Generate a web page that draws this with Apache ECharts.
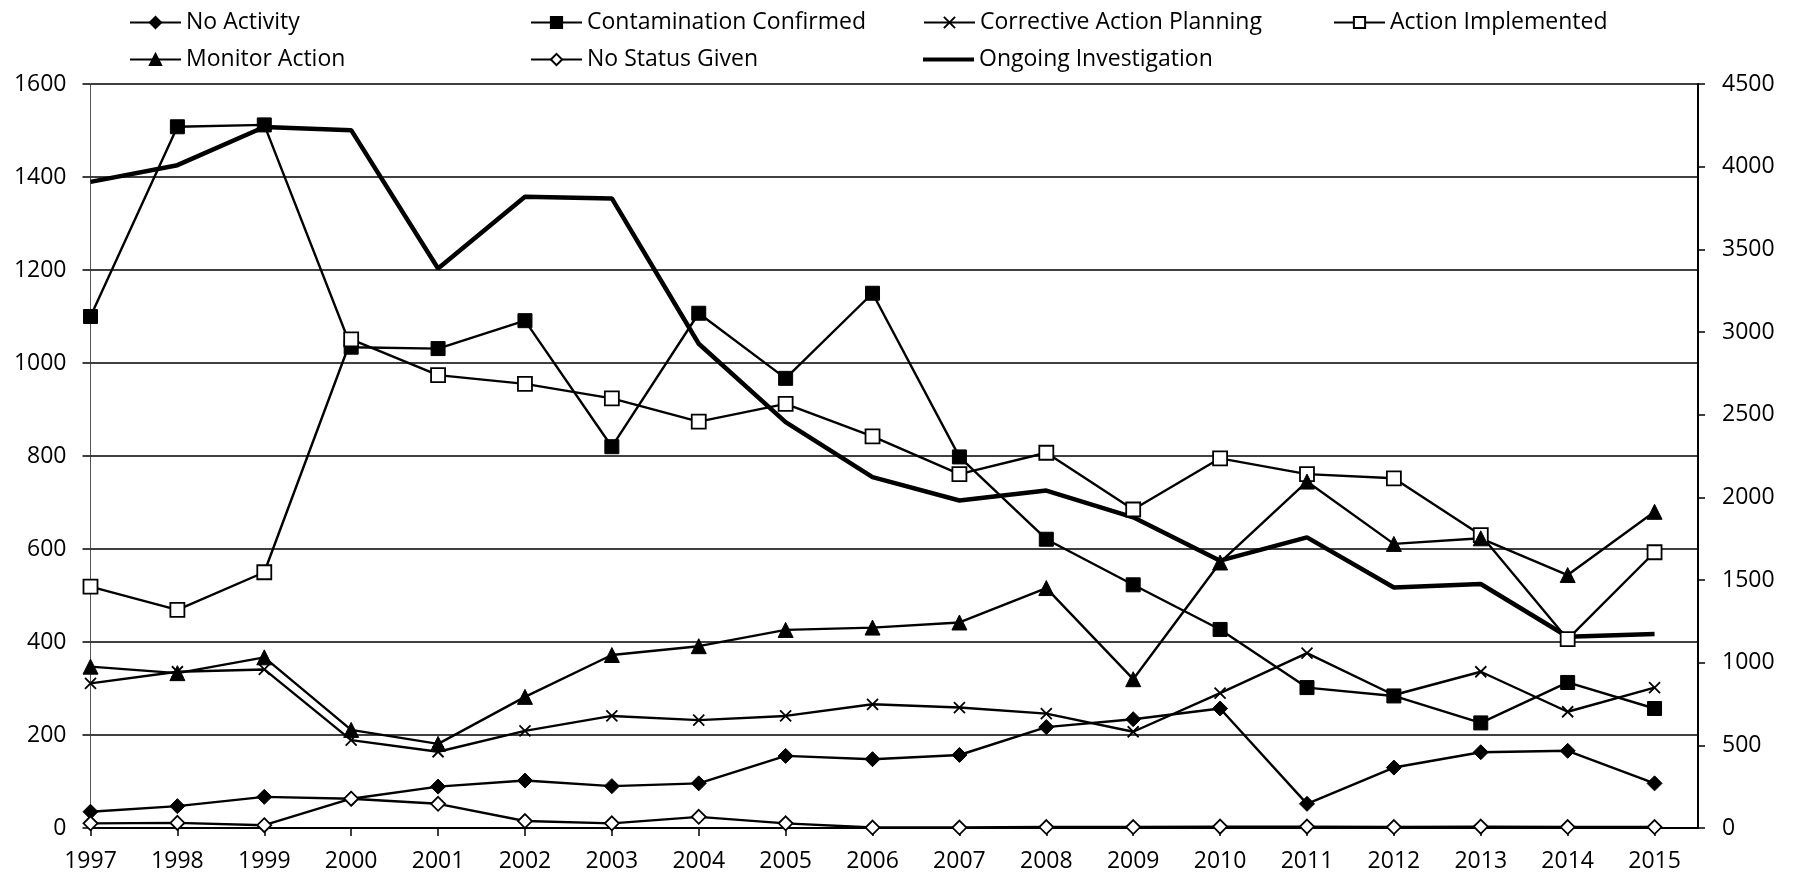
<!DOCTYPE html>
<html>
<head>
<meta charset="utf-8">
<script src="https://cdn.jsdelivr.net/npm/echarts@6/dist/echarts.min.js"></script>
<style>
  html, body { margin: 0; padding: 0; background: #fff; }
  #chart { width: 1801px; height: 877px; }
</style>
</head>
<body>
<div id="chart"></div>
<script>
// ---- Data ----
const years = [1997, 1998, 1999, 2000, 2001, 2002, 2003, 2004, 2005, 2006, 2007, 2008, 2009, 2010, 2011, 2012, 2013, 2014, 2015];
const noActivity = [35, 47, 67, 63, 89, 102, 90, 96, 155, 148, 157, 217, 234, 257, 52, 130, 163, 166, 96];
const contaminationConfirmed = [1100, 1508, 1512, 1034, 1031, 1091, 820, 1107, 967, 1150, 798, 621, 523, 427, 302, 284, 226, 313, 257];
const correctiveActionPlanning = [311, 336, 341, 189, 164, 209, 241, 232, 241, 266, 259, 246, 207, 290, 376, 286, 336, 250, 302];
const actionImplemented = [519, 469, 550, 1051, 974, 955, 924, 874, 912, 842, 761, 807, 685, 795, 761, 752, 630, 406, 593];
const monitorAction = [347, 333, 367, 211, 181, 282, 372, 391, 426, 431, 442, 516, 320, 571, 745, 611, 623, 544, 680];
const noStatusGiven = [10, 11, 6, 63, 52, 15, 10, 24, 10, 1, 1, 2, 2, 3, 3, 2, 3, 2, 2];
const ongoingInvestigation = [3908, 4009, 4240, 4221, 3384, 3818, 3808, 2929, 2455, 2122, 1981, 2041, 1879, 1617, 1758, 1455, 1476, 1157, 1173];

const leftTicks = { min: 0, max: 1600, interval: 200 };
const rightTicks = { min: 0, max: 4500, interval: 500 };

const FONT = 'Open Sans';
const pairs = arr => years.map((y, i) => [y, arr[i]]);

function lineSeries(name, arr, symbol, size, filled, extra) {
  return Object.assign({
    name: name,
    type: 'line',
    data: pairs(arr),
    symbol: symbol,
    symbolSize: size,
    showAllSymbol: true,
    lineStyle: { color: '#000', width: 2.4 },
    itemStyle: filled
      ? { color: '#000', borderColor: '#000', borderWidth: 1 }
      : { color: '#fff', borderColor: '#000', borderWidth: 1.8 },
    emphasis: { disabled: true }
  }, extra || {});
}

const crossPath = 'path://M0,0L10,10M10,0L0,10';

const series = [
  lineSeries('No Activity', noActivity, 'diamond', 15, true),
  lineSeries('Contamination Confirmed', contaminationConfirmed, 'rect', 14, true),
  lineSeries('Corrective Action Planning', correctiveActionPlanning, crossPath, 11, false,
    { itemStyle: { color: '#000', borderColor: '#000', borderWidth: 1.8 } }),
  lineSeries('Action Implemented', actionImplemented, 'rect', 14, false),
  lineSeries('Monitor Action', monitorAction, 'triangle', 15, true),
  lineSeries('No Status Given', noStatusGiven, 'diamond', 14, false),
  {
    name: 'Ongoing Investigation',
    type: 'line',
    yAxisIndex: 1,
    data: pairs(ongoingInvestigation),
    symbol: 'none',
    lineStyle: { color: '#000', width: 4.5 },
    itemStyle: { color: '#000' },
    emphasis: { disabled: true }
  }
];

function legendAt(name, left, top, icon, itemHeight) {
  return {
    data: [icon ? { name: name, icon: icon } : name],
    left: left,
    top: top,
    padding: 0,
    itemWidth: 51,
    itemHeight: itemHeight || 14,
    selectedMode: false,
    textStyle: { fontFamily: FONT, fontSize: 23, color: '#000' }
  };
}

const option = {
  animation: false,
  backgroundColor: '#fff',
  textStyle: { fontFamily: FONT },
  legend: [
    legendAt('No Activity', 129, 11),
    legendAt('Monitor Action', 129, 48),
    legendAt('Contamination Confirmed', 530, 11),
    legendAt('No Status Given', 530, 48),
    legendAt('Corrective Action Planning', 923, 11),
    legendAt('Ongoing Investigation', 923, 48, 'rect', 4),
    legendAt('Action Implemented', 1333, 11)
  ],
  grid: { left: 90.5, right: 103, top: 84, bottom: 49, containLabel: false },
  xAxis: {
    type: 'value',
    min: 1997,
    max: 2015.5,
    interval: 1,
    axisLine: { show: true, onZero: false, lineStyle: { color: '#000', width: 2 } },
    axisTick: { show: true, length: 8, lineStyle: { color: '#000', width: 1.5 } },
    splitLine: { show: false },
    axisLabel: {
      showMaxLabel: false,
      margin: 22,
      fontFamily: FONT, fontSize: 23, color: '#000',
      formatter: v => (Number.isInteger(v) ? String(v) : '')
    }
  },
  yAxis: [
    {
      type: 'value',
      min: leftTicks.min, max: leftTicks.max, interval: leftTicks.interval,
      position: 'left',
      axisLine: { show: true, lineStyle: { color: '#555', width: 1 } },
      axisTick: { show: true, length: 8, lineStyle: { color: '#000', width: 1.5 } },
      splitLine: { show: true, lineStyle: { color: '#000', width: 1.5 } },
      axisLabel: { margin: 24, fontFamily: FONT, fontSize: 23, color: '#000', formatter: v => String(v) }
    },
    {
      type: 'value',
      min: rightTicks.min, max: rightTicks.max, interval: rightTicks.interval,
      position: 'right',
      axisLine: { show: true, lineStyle: { color: '#000', width: 2 } },
      axisTick: { show: true, length: 7, lineStyle: { color: '#000', width: 1.5 } },
      splitLine: { show: false },
      axisLabel: { margin: 24, fontFamily: FONT, fontSize: 23, color: '#000', formatter: v => String(v) }
    }
  ],
  series: series
};

const chart = echarts.init(document.getElementById('chart'), null, { renderer: 'canvas' });
chart.setOption(option);
</script>
</body>
</html>
